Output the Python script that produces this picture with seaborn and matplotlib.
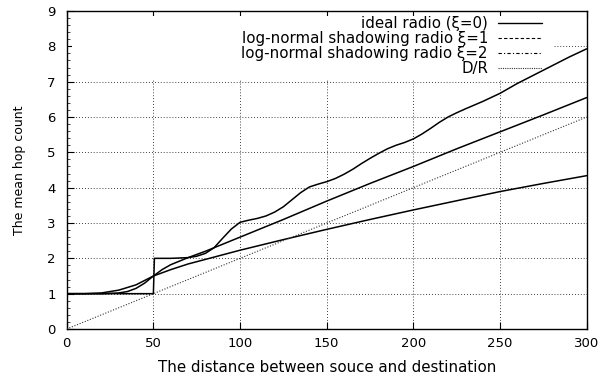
import numpy as np
import pandas as pd
import matplotlib
matplotlib.use("Agg")
import matplotlib.pyplot as plt
from matplotlib.lines import Line2D
from matplotlib.patches import Rectangle
from matplotlib.ticker import MultipleLocator
import seaborn as sns

# ---- data ----
ideal_d = [0, 50, 50.6, 60, 70, 75, 80, 85, 90, 95, 100, 105, 110, 115, 120, 125, 130, 135,
           140, 145, 150, 155, 160, 165, 170, 175, 180, 185, 190, 195, 200, 205, 210, 215,
           220, 225, 230, 240, 250, 260, 270, 280, 290, 300]
ideal_v = [1, 1, 2, 2, 2.02, 2.06, 2.14, 2.3, 2.57, 2.83, 3.02, 3.08, 3.13, 3.2, 3.31, 3.46,
           3.66, 3.86, 4.02, 4.1, 4.17, 4.26, 4.38, 4.52, 4.68, 4.83, 4.97, 5.1, 5.2, 5.28,
           5.38, 5.52, 5.68, 5.85, 6.0, 6.12, 6.23, 6.44, 6.67, 6.95, 7.2, 7.45, 7.7, 7.93]

xi1_d = [0, 20, 30, 35, 40, 45, 50, 55, 60, 70, 80, 90, 100, 125, 150, 175, 200, 225, 250, 275, 300]
xi1_v = [1, 1.0, 1.02, 1.06, 1.15, 1.3, 1.5, 1.68, 1.82, 2.02, 2.2, 2.4, 2.6, 3.1, 3.62,
         4.12, 4.6, 5.1, 5.58, 6.06, 6.55]

xi2_d = [0, 10, 20, 30, 40, 50, 60, 70, 80, 100, 125, 150, 175, 200, 225, 250, 275, 300]
xi2_v = [1, 1.0, 1.02, 1.1, 1.25, 1.5, 1.68, 1.84, 1.97, 2.23, 2.53, 2.82, 3.1, 3.37, 3.63,
         3.89, 4.12, 4.34]

dr_d = [0, 300]
dr_v = [0, 6]

labels = ["ideal radio (\u03be=0)", "log-normal shadowing radio \u03be=1",
          "log-normal shadowing radio \u03be=2", "D/R"]
x_ticks = [0, 50, 100, 150, 200, 250, 300]
y_ticks = list(range(0, 10))

# ---- style ----
sns.set_theme(style="white")
plt.rcParams["font.family"] = ["DejaVu Sans"]
plt.rcParams["font.size"] = 10
plt.rcParams["text.color"] = "black"
plt.rcParams["axes.labelcolor"] = "black"

fig = plt.figure(figsize=(6.02, 3.78), dpi=100)
ax = fig.add_axes([0.1108, 0.1296, 0.8638, 0.8413])

series = [(ideal_d, ideal_v), (xi1_d, xi1_v), (xi2_d, xi2_v)]
for d, v in series:
    df = pd.DataFrame({"d": d, "v": v})
    sns.lineplot(data=df, x="d", y="v", ax=ax, color="black", lw=1.1,
                 estimator=None, sort=False, zorder=3)
df = pd.DataFrame({"d": dr_d, "v": dr_v})
sns.lineplot(data=df, x="d", y="v", ax=ax, color="#333333", lw=0.8,
             linestyle=(0, (1, 1.5)), estimator=None, sort=False, zorder=3)

ax.set_xlim(0, 300)
ax.set_ylim(0, 9)
ax.set_xticks(x_ticks)
ax.set_yticks(y_ticks)
ax.yaxis.set_minor_locator(MultipleLocator(0.2))
ax.tick_params(axis="both", which="major", direction="in", length=5, width=0.8,
               color="black", labelsize=9.5, labelcolor="black")
ax.tick_params(axis="x", which="major", top=True, bottom=True, pad=6)
ax.tick_params(axis="y", which="major", left=True, right=False, pad=8)
ax.tick_params(axis="y", which="minor", direction="in", length=2.5, width=0.6,
               left=True, right=False)
ax.grid(True, which="major", color="black", lw=0.6, linestyle=(0, (1, 2.5)))
ax.set_axisbelow(True)
for s in ax.spines.values():
    s.set_color("black")
    s.set_linewidth(1.0)

ax.set_xlabel("The distance between souce and destination", fontsize=10.8, labelpad=7,
              color="black")
ax.set_ylabel("The mean hop count", fontsize=9, labelpad=15, color="black")

# white key area covering the grid
ax.add_patch(Rectangle((0.01, 0.787), 0.925, 0.198, transform=ax.transAxes,
                       facecolor="white", edgecolor="none", zorder=1))

handles = [Line2D([], [], color="black", lw=1.0),
           Line2D([], [], color="black", lw=0.8, linestyle=(0, (3, 2))),
           Line2D([], [], color="black", lw=0.8, linestyle=(0, (3, 2, 1, 2))),
           Line2D([], [], color="#333333", lw=0.8, linestyle=(0, (1, 1)))]
leg = ax.legend(handles, labels, loc="upper right", bbox_to_anchor=(0.914, 0.984),
                frameon=False, markerfirst=False, handlelength=2.9, handletextpad=0.7,
                labelspacing=0.0, borderpad=0, borderaxespad=0, fontsize=10.8)
for t in leg.get_texts():
    t.set_color("black")

fig.savefig("out.png", dpi=100)
